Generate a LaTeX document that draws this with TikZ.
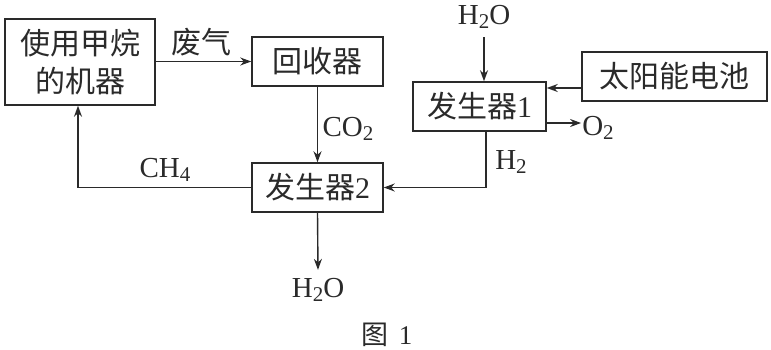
\documentclass[tikz,border=0pt]{standalone}
\usepackage{fontspec}
\setmainfont{Liberation Serif}
\newfontfamily\cjk{Noto Sans CJK SC}
\usetikzlibrary{arrows.meta}
\newcommand{\chemsub}[1]{\raisebox{-0.35ex}{\fontsize{21}{21}\selectfont #1}}
\tikzset{
  boxnode/.style={draw=ink, line width=1.5pt, inner sep=0pt, align=center,
    font=\fontsize{30}{38}\selectfont},
  lbl/.style={inner sep=0pt, font=\fontsize{29}{32}\selectfont, text=ink},
  arr/.style={draw=ink, line width=1.4pt, -{Stealth[length=11pt,width=8pt]}},
  ln/.style={draw=ink, line width=1.4pt}
}
\definecolor{ink}{HTML}{2A2A2A}
\begin{document}
\begin{tikzpicture}[x=1pt,y=-1pt]
\useasboundingbox (0,0) rectangle (771,350);
% boxes
\node[boxnode, minimum width=150pt, minimum height=86pt, text=ink] (b1) at (80,62) {{\cjk 使用甲烷}\\{\cjk 的机器}};
\node[boxnode, minimum width=131pt, minimum height=49pt, text=ink] (rec) at (317.5,61.5) {\cjk 回收器};
\node[boxnode, minimum width=131pt, minimum height=49pt, text=ink] (gen2) at (317.5,187.5) {{\cjk 发生器}2};
\node[boxnode, minimum width=133pt, minimum height=49pt, text=ink] (gen1) at (479.5,106.5) {{\cjk 发生器}1};
\node[boxnode, minimum width=185pt, minimum height=49pt, text=ink] (solar) at (674.5,76.5) {\cjk 太阳能电池};
% labels
\node[lbl, font=\fontsize{30}{30}\selectfont\cjk] (fq) at (201,42) {废气};
\node[lbl] (co2) at (348,129) {CO\chemsub{2}};
\node[lbl] (ch4) at (165,170) {CH\chemsub{4}};
\node[lbl] (h2) at (511,162) {H\chemsub{2}};
\node[lbl] (h2ob) at (318,290) {H\chemsub{2}O};
\node[lbl] (h2ot) at (484,17) {H\chemsub{2}O};
\node[lbl] (o2) at (598,128) {O\chemsub{2}};
\node[lbl, font=\fontsize{27}{30}\selectfont] (cap) at (387,335) {{\cjk 图}\hspace{10pt}1};
% connectors
\draw[arr] (b1.east |- rec.west) -- (rec.west);
\draw[arr] (rec.south) -- (gen2.north);
\draw[arr] (gen2.west) -| ([xshift=-2pt]b1.south);
\draw[arr] (gen2.south) -- ([yshift=8pt]h2ob.north);
\draw[arr] ([yshift=-8pt]h2ot.south) -- (gen1.north -| h2ot);
\draw[arr] ([yshift=-11.5pt]solar.west) -- ([yshift=18.5pt]gen1.east);
\coordinate (o2s) at ([yshift=-16.5pt]gen1.east);
\draw[arr] (o2s) -- ([xshift=-1pt]o2s -| o2.west);
\coordinate (h2s) at ([xshift=6.5pt]gen1.south);
\draw[arr] (h2s) |- (gen2.east);
\end{tikzpicture}
\end{document}
